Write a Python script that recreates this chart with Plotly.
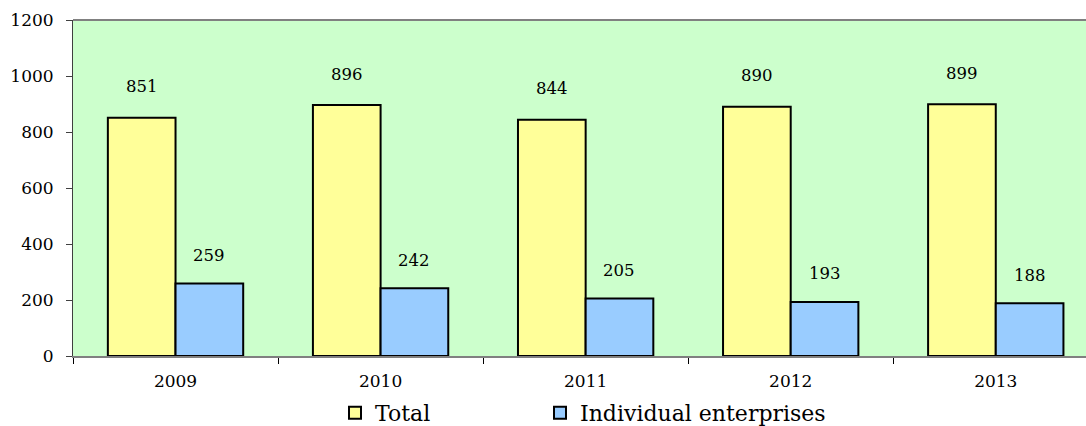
import plotly.graph_objects as go

years = ["2009", "2010", "2011", "2012", "2013"]
total = [851, 896, 844, 890, 899]
individual = [259, 242, 205, 193, 188]
series_names = ["Total", "Individual enterprises"]
y_ticks = [0, 200, 400, 600, 800, 1000, 1200]

font_family = "DejaVu Serif"

fig = go.Figure()
fig.add_trace(go.Bar(x=years, y=total, name=series_names[0], legend="legend",
                     marker=dict(color="#FFFF99", line=dict(color="black", width=2))))
fig.add_trace(go.Bar(x=years, y=individual, name=series_names[1], legend="legend2",
                     marker=dict(color="#99CCFF", line=dict(color="black", width=2))))

ann = []
for i, (t, v) in enumerate(zip(total, individual)):
    ann.append(dict(x=i - 0.165, y=t, xref="x", yref="y", text=str(t), showarrow=False,
                    yanchor="middle", yshift=31, font=dict(size=16.5, color="black", family=font_family)))
    ann.append(dict(x=i + 0.165, y=v, xref="x", yref="y", text=str(v), showarrow=False,
                    yanchor="middle", yshift=28, font=dict(size=16.5, color="black", family=font_family)))

legend_common = dict(orientation="h", y=(426 - 413) / 426, xanchor="left", yanchor="middle",
                     yref="container", xref="container",
                     font=dict(size=22, family=font_family, color="black"),
                     bgcolor="rgba(0,0,0,0)")

fig.update_layout(
    width=1086, height=426,
    margin=dict(l=73, r=0, t=20, b=70, autoexpand=False),
    paper_bgcolor="white",
    plot_bgcolor="#CCFFCC",
    barmode="group",
    bargap=0.34,
    bargroupgap=0,
    font=dict(family=font_family, size=17, color="black"),
    annotations=ann,
    showlegend=True,
    legend=dict(legend_common, x=(355 - 20) / 1086),
    legend2=dict(legend_common, x=(560 - 20) / 1086),
)
fig.update_xaxes(
    type="category",
    range=[-0.5, 4.44],
    showline=True, linecolor="#808080", linewidth=2,
    ticks="outside", tickson="boundaries", ticklen=6, tickcolor="black", tickwidth=1,
    showgrid=False,
    tickfont=dict(size=17),
    ticklabelstandoff=9,
)
fig.update_yaxes(
    range=[0, 1200],
    tickvals=y_ticks,
    showline=True, linecolor="#404040", linewidth=1,
    ticks="outside", ticklen=6, tickcolor="#404040",
    showgrid=False, zeroline=False,
    tickfont=dict(size=17),
    ticklabelstandoff=9,
)
fig.add_shape(type="line", xref="paper", yref="paper", x0=0, x1=1, y0=1, y1=1,
              line=dict(color="#808080", width=2))

fig.write_html("out.html")
